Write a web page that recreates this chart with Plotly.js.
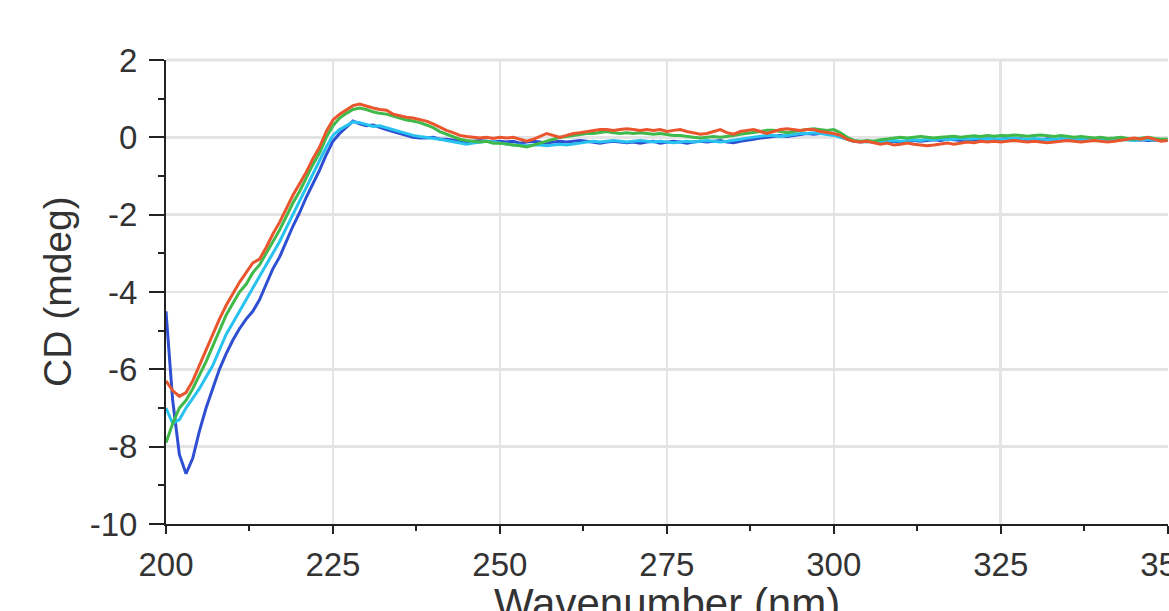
<!DOCTYPE html>
<html>
<head>
<meta charset="utf-8">
<script src="https://cdn.plot.ly/plotly-3.0.1.min.js"></script>
<style>html,body{margin:0;padding:0;background:#fff;}#chart{width:1169px;height:611px;}</style>
</head>
<body>
<div id="chart"></div>
<script>
const wavelength = [
200,201,202,203,204,205,206,207,208,209,210,211,212,213,214,215,216,217,218,219,
220,221,222,223,224,225,226,227,228,229,230,231,232,233,234,235,236,237,238,239,
240,241,242,243,244,245,246,247,248,249,250,251,252,253,254,255,256,257,258,259,
260,261,262,263,264,265,266,267,268,269,270,271,272,273,274,275,276,277,278,279,
280,281,282,283,284,285,286,287,288,289,290,291,292,293,294,295,296,297,298,299,
300,301,302,303,304,305,306,307,308,309,310,311,312,313,314,315,316,317,318,319,
320,321,322,323,324,325,326,327,328,329,330,331,332,333,334,335,336,337,338,339,
340,341,342,343,344,345,346,347,348,349,350];

const cdRed = [
-6.3,-6.55,-6.7,-6.6,-6.3,-5.9,-5.5,-5.1,-4.7,-4.35,
-4.05,-3.75,-3.5,-3.25,-3.15,-2.85,-2.5,-2.2,-1.85,-1.5,
-1.2,-0.9,-0.55,-0.25,0.15,0.45,0.6,0.72,0.82,0.86,
0.8,0.76,0.72,0.7,0.6,0.56,0.52,0.5,0.46,0.42,
0.35,0.26,0.18,0.12,0.05,0.02,0.0,-0.02,0.0,-0.03,
0.0,-0.02,0.0,-0.05,-0.1,-0.05,0.02,0.1,0.05,0.0,
0.05,0.1,0.12,0.15,0.18,0.2,0.2,0.18,0.2,0.22,
0.2,0.18,0.2,0.18,0.2,0.15,0.18,0.2,0.15,0.12,
0.08,0.1,0.15,0.2,0.12,0.08,0.15,0.18,0.2,0.15,
0.1,0.15,0.2,0.22,0.2,0.18,0.2,0.2,0.15,0.12,
0.1,0.05,-0.05,-0.1,-0.12,-0.1,-0.15,-0.18,-0.15,-0.2,
-0.18,-0.15,-0.18,-0.2,-0.22,-0.2,-0.18,-0.15,-0.18,-0.15,
-0.12,-0.14,-0.1,-0.12,-0.1,-0.12,-0.1,-0.08,-0.1,-0.12,
-0.1,-0.12,-0.14,-0.12,-0.1,-0.08,-0.1,-0.12,-0.1,-0.08,
-0.1,-0.12,-0.1,-0.08,-0.05,-0.02,-0.05,0.0,-0.05,-0.1,
-0.08];

const cdGreen = [
-7.9,-7.4,-7.0,-6.8,-6.5,-6.15,-5.8,-5.4,-5.0,-4.6,
-4.3,-4.0,-3.8,-3.5,-3.3,-3.0,-2.7,-2.4,-2.05,-1.7,
-1.4,-1.05,-0.7,-0.4,0.0,0.3,0.5,0.62,0.72,0.76,
0.72,0.66,0.62,0.6,0.55,0.5,0.45,0.42,0.38,0.32,
0.25,0.15,0.08,0.0,-0.05,-0.08,-0.1,-0.12,-0.1,-0.15,
-0.15,-0.18,-0.2,-0.22,-0.25,-0.2,-0.15,-0.1,-0.05,0.0,
0.02,0.05,0.08,0.1,0.1,0.12,0.15,0.12,0.1,0.12,
0.1,0.12,0.1,0.08,0.1,0.08,0.05,0.05,0.02,0.0,
-0.02,0.0,0.02,0.0,0.02,0.05,0.08,0.1,0.12,0.15,
0.18,0.18,0.15,0.12,0.15,0.18,0.2,0.22,0.2,0.18,
0.2,0.12,0.0,-0.08,-0.1,-0.08,-0.1,-0.06,-0.04,-0.02,
0.0,-0.02,0.0,0.02,0.0,-0.02,0.0,0.02,0.03,0.0,
0.02,0.04,0.02,0.05,0.03,0.05,0.04,0.06,0.05,0.03,
0.05,0.06,0.04,0.02,0.05,0.03,0.0,0.02,0.0,-0.02,
0.0,-0.03,-0.02,0.0,-0.03,-0.05,-0.02,0.0,-0.03,-0.05,
-0.04];

const cdCyan = [
-7.0,-7.4,-7.3,-7.0,-6.75,-6.5,-6.2,-5.9,-5.5,-5.1,
-4.8,-4.5,-4.2,-3.9,-3.6,-3.3,-3.0,-2.7,-2.35,-2.0,
-1.65,-1.3,-0.95,-0.6,-0.25,0.05,0.2,0.3,0.4,0.38,
0.32,0.28,0.3,0.25,0.2,0.15,0.1,0.05,0.02,0.0,
-0.02,-0.05,-0.08,-0.12,-0.15,-0.18,-0.15,-0.12,-0.1,-0.12,
-0.15,-0.18,-0.2,-0.2,-0.22,-0.2,-0.2,-0.22,-0.2,-0.18,
-0.2,-0.18,-0.15,-0.12,-0.1,-0.12,-0.1,-0.08,-0.1,-0.12,
-0.1,-0.08,-0.1,-0.12,-0.1,-0.12,-0.14,-0.12,-0.1,-0.12,
-0.1,-0.08,-0.1,-0.12,-0.1,-0.08,-0.05,-0.02,0.0,0.02,
0.05,0.05,0.02,0.05,0.08,0.1,0.1,0.12,0.1,0.08,
0.05,0.0,-0.05,-0.1,-0.1,-0.12,-0.1,-0.12,-0.1,-0.08,
-0.1,-0.08,-0.06,-0.08,-0.05,-0.06,-0.04,-0.06,-0.05,-0.03,
-0.05,-0.04,-0.02,-0.04,-0.03,-0.05,-0.03,-0.02,-0.04,-0.05,
-0.03,-0.04,-0.06,-0.05,-0.03,-0.04,-0.06,-0.05,-0.06,-0.08,
-0.06,-0.08,-0.06,-0.05,-0.07,-0.08,-0.06,-0.05,-0.07,-0.08,
-0.07];

const cdBlue = [
-4.5,-6.8,-8.2,-8.7,-8.3,-7.6,-7.0,-6.5,-6.0,-5.6,
-5.25,-4.95,-4.7,-4.5,-4.2,-3.8,-3.4,-3.1,-2.7,-2.3,
-1.95,-1.55,-1.2,-0.85,-0.45,-0.1,0.1,0.25,0.42,0.35,
0.3,0.32,0.25,0.2,0.15,0.1,0.05,0.0,-0.02,-0.02,
0.0,-0.05,-0.05,-0.08,-0.1,-0.12,-0.1,-0.08,-0.1,-0.12,
-0.1,-0.12,-0.1,-0.15,-0.12,-0.1,-0.12,-0.15,-0.12,-0.1,
-0.12,-0.1,-0.08,-0.1,-0.12,-0.15,-0.12,-0.1,-0.12,-0.14,
-0.12,-0.15,-0.12,-0.1,-0.15,-0.12,-0.1,-0.12,-0.15,-0.12,
-0.1,-0.12,-0.1,-0.08,-0.12,-0.14,-0.1,-0.08,-0.05,-0.02,
0.0,0.02,0.05,0.02,0.05,0.08,0.1,0.08,0.1,0.12,
0.08,0.02,-0.05,-0.1,-0.12,-0.1,-0.12,-0.14,-0.12,-0.1,
-0.12,-0.1,-0.08,-0.1,-0.08,-0.06,-0.08,-0.05,-0.06,-0.08,
-0.06,-0.05,-0.07,-0.04,-0.06,-0.05,-0.03,-0.05,-0.04,-0.06,
-0.05,-0.06,-0.04,-0.05,-0.07,-0.05,-0.06,-0.08,-0.06,-0.05,
-0.07,-0.06,-0.08,-0.06,-0.05,-0.07,-0.06,-0.08,-0.07,-0.06,
-0.08];

const seriesNames = ['Sample 1', 'Sample 2', 'Sample 3', 'Sample 4'];
const seriesValues = [cdBlue, cdCyan, cdGreen, cdRed];
const seriesColors = ['#2f4fd3', '#27c2ef', '#3fb94a', '#e9552c'];

const xTitle = 'Wavenumber (nm)';
const yTitle = 'CD (mdeg)';
const xTickLabels = ['200', '225', '250', '275', '300', '325', '350'];
const yTickLabels = ['-10', '-8', '-6', '-4', '-2', '0', '2'];
const xTickValues = [200, 225, 250, 275, 300, 325, 350];
const yTickValues = [-10, -8, -6, -4, -2, 0, 2];

const traces = seriesValues.map((vals, i) => ({
  x: wavelength,
  y: vals,
  type: 'scatter',
  mode: 'lines',
  name: seriesNames[i],
  line: {color: seriesColors[i], width: 3},
  showlegend: false
}));

const fontFam = '"Liberation Sans", Arial, sans-serif';
const layout = {
  width: 1169,
  height: 611,
  margin: {l: 166, r: 1, t: 60, b: 87},
  paper_bgcolor: '#ffffff',
  plot_bgcolor: '#ffffff',
  showlegend: false,
  shapes: [
    {type: 'line', xref: 'paper', yref: 'paper', x0: 0, x1: 1, y0: 1, y1: 1,
     line: {color: '#e4e4e4', width: 3}, layer: 'below'}
  ],
  annotations: [
    {text: xTitle, xref: 'paper', yref: 'paper', x: 0.5, y: 0, xanchor: 'center', yanchor: 'top',
     yshift: -54, showarrow: false, font: {family: fontFam, size: 42, color: '#333'}},
    {text: yTitle, xref: 'paper', yref: 'paper', x: 0, y: 0.5, xanchor: 'center', yanchor: 'middle',
     xshift: -109, textangle: -90, showarrow: false, font: {family: fontFam, size: 39, color: '#333'}}
  ],
  xaxis: {
    range: [200, 350.05],
    autorange: false,
    tickmode: 'array',
    tickvals: xTickValues,
    ticktext: xTickLabels,
    ticklabeloverflow: 'allow',
    showgrid: true,
    gridcolor: '#e4e4e4',
    gridwidth: 2.5,
    zeroline: false,
    showline: true,
    linecolor: '#222',
    linewidth: 2,
    ticks: 'outside',
    ticklen: 8,
    tickwidth: 2,
    tickcolor: '#222',
    minor: {tickmode: 'array', tickvals: [212.5, 237.5, 262.5, 287.5, 312.5, 337.5], ticks: 'outside', ticklen: 5, tickwidth: 2, tickcolor: '#222', showgrid: false},
    tickfont: {family: fontFam, size: 33, color: '#333'},
    ticklabelstandoff: 2,
    automargin: false
  },
  yaxis: {
    range: [-10, 2],
    autorange: false,
    tickmode: 'array',
    tickvals: yTickValues,
    ticktext: yTickLabels,
    showgrid: true,
    gridcolor: '#e4e4e4',
    gridwidth: 2.5,
    zeroline: false,
    showline: true,
    linecolor: '#222',
    linewidth: 2,
    ticks: 'outside',
    ticklen: 15,
    tickwidth: 2,
    tickcolor: '#222',
    minor: {tickmode: 'array', tickvals: [-9, -7, -5, -3, -1, 1], ticks: 'outside', ticklen: 6, tickwidth: 2, tickcolor: '#222', showgrid: false},
    tickfont: {family: fontFam, size: 33, color: '#333'},
    ticklabelstandoff: 5,
    automargin: false
  }
};

Plotly.newPlot('chart', traces, layout, {displayModeBar: false, staticPlot: true});
</script>
</body>
</html>
